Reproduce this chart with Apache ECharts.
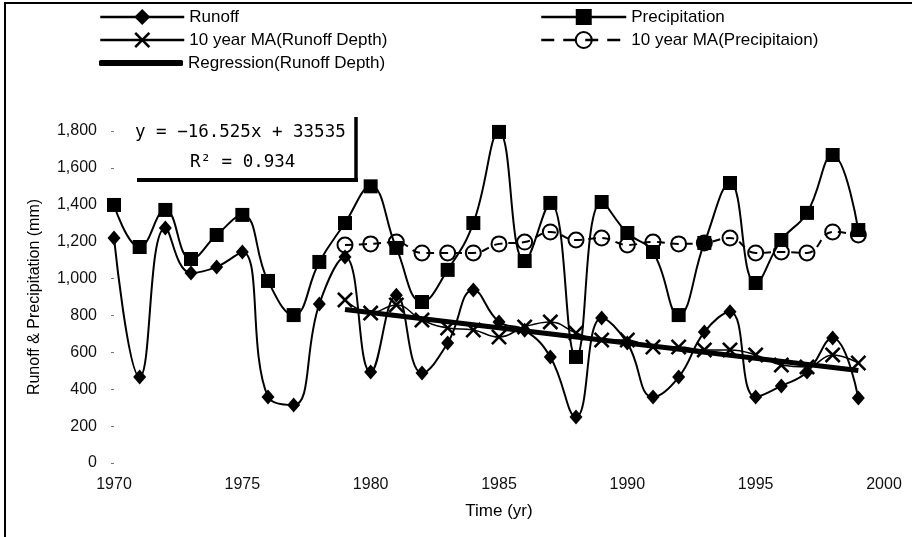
<!DOCTYPE html>
<html>
<head>
<meta charset="utf-8">
<script src="https://cdn.jsdelivr.net/npm/echarts@6/dist/echarts.min.js"></script>
<style>
html,body{margin:0;padding:0;background:#fff;}
#chart{width:912px;height:537px;}
</style>
</head>
<body>
<div id="chart"></div>
<script>
const years = [1970,1971,1972,1973,1974,1975,1976,1977,1978,1979,1980,1981,1982,1983,1984,1985,1986,1987,1988,1989,1990,1991,1992,1993,1994,1995,1996,1997,1998,1999];
const runoff = [1220,466,1274,1030,1063,1144,358,314,862,1117,493,910,488,650,938,765,720,575,249,786,650,358,466,710,820,358,418,493,678,352];
const precipitation = [1399,1171,1372,1106,1236,1345,987,802,1090,1301,1500,1166,873,1047,1301,1795,1095,1410,575,1415,1247,1144,802,1193,1518,976,1209,1356,1670,1263];
const maYears = [1979,1980,1981,1982,1983,1984,1985,1986,1987,1988,1989,1990,1991,1992,1993,1994,1995,1996,1997,1998,1999];
const maRunoff = [884,813,857,775,732,721,683,738,765,705,667,667,629,629,613,613,586,531,521,586,542];
const maPrecip = [1182,1188,1198,1139,1139,1139,1188,1198,1253,1209,1220,1182,1198,1188,1193,1220,1139,1144,1139,1253,1236];
const regressionYears = [1979,1999];
const regressionValues = [832,502];
const yTicks = [0,200,400,600,800,1000,1200,1400,1600,1800];
const xTicks = [1970,1975,1980,1985,1990,1995,2000];
const equationText = 'y = \u221216.525x + 33535';
const r2Text = 'R\u00B2 = 0.934';

const pair = (xs, ys) => xs.map((x, i) => [x, ys[i]]);
const FONT = 'Liberation Sans, Arial, sans-serif';
const xPath = 'path://M0,1.6L1.6,0L7,5.4L12.4,0L14,1.6L8.6,7L14,12.4L12.4,14L7,8.6L1.6,14L0,12.4L5.4,7Z';

const chart = echarts.init(document.getElementById('chart'), null, {renderer:'canvas'});

function legendAt(name, left, centerY, width, extra) {
  return Object.assign({
    data: [name], left: left, top: centerY - 11, padding: 0, itemGap: 0,
    itemWidth: width, itemHeight: 20, selectedMode: false,
    lineStyle: {width: 2.5},
    textStyle: {fontFamily: FONT, fontSize: 17, color: '#000', lineHeight: 22}
  }, extra || {});
}

const option = {
  animation: false,
  backgroundColor: '#fff',
  grid: {left: 114, right: 28, top: 131, bottom: 74, containLabel: false},
  legend: [
    legendAt('Runoff', 99, 17, 84),
    legendAt('10 year MA(Runoff Depth)', 99, 40, 84),
    legendAt('Regression(Runoff Depth)', 99, 63, 84, {icon: 'roundRect', itemHeight: 6}),
    legendAt('Precipitation', 540, 17, 85),
    legendAt('10 year MA(Precipitaion)', 540, 40, 85, {lineStyle: {width: 2.5, type: [13, 9]}})
  ],
  xAxis: {
    type: 'value', min: xTicks[0], max: xTicks[xTicks.length-1], interval: 5,
    name: 'Time (yr)', nameLocation: 'middle', nameGap: 40,
    nameTextStyle: {fontFamily: FONT, fontSize: 17, color: '#000'},
    axisLine: {show: false}, axisTick: {show: false}, splitLine: {show: false},
    axisLabel: {fontFamily: FONT, fontSize: 16, color: '#111', margin: 14, formatter: v => String(v)}
  },
  yAxis: {
    type: 'value', min: yTicks[0], max: yTicks[yTicks.length-1], interval: 200,
    name: 'Runoff & Precipitation (mm)', nameLocation: 'middle', nameGap: 71,
    nameTextStyle: {fontFamily: FONT, fontSize: 16, color: '#000'},
    axisLine: {show: false},
    axisTick: {show: true, length: 3, lineStyle: {color: '#777', width: 1}},
    splitLine: {show: false},
    axisLabel: {fontFamily: FONT, fontSize: 16, color: '#111', margin: 17,
      formatter: v => v.toLocaleString('en-US')}
  },
  series: [
    {
      name: 'Runoff', type: 'line', smooth: 0.45, data: pair(years, runoff),
      symbol: 'diamond', symbolSize: [13, 15],
      lineStyle: {color: '#000', width: 2}, itemStyle: {color: '#000'}, z: 3
    },
    {
      name: 'Precipitation', type: 'line', smooth: 0.45, data: pair(years, precipitation),
      symbol: 'rect', symbolSize: 14,
      lineStyle: {color: '#000', width: 2}, itemStyle: {color: '#000'}, z: 3
    },
    {
      name: '10 year MA(Runoff Depth)', type: 'line', smooth: 0.45, data: pair(maYears, maRunoff),
      symbol: xPath, symbolSize: 16,
      lineStyle: {color: '#000', width: 1.5}, itemStyle: {color: '#000'}, z: 4
    },
    {
      name: '10 year MA(Precipitaion)', type: 'line', smooth: 0.45, data: pair(maYears, maPrecip),
      symbol: 'circle', symbolSize: 15,
      lineStyle: {color: '#000', width: 2, type: [8, 6]},
      itemStyle: {color: 'rgba(255,255,255,0)', borderColor: '#000', borderWidth: 2}, z: 4
    },
    {
      name: 'Regression(Runoff Depth)', type: 'line', data: pair(regressionYears, regressionValues),
      symbol: 'none', lineStyle: {color: '#000', width: 5}, itemStyle: {color: '#000'}, z: 5
    }
  ],
  graphic: [
    {type: 'rect', shape: {x: 5, y: 3, width: 920, height: 545}, style: {fill: null, stroke: '#000', lineWidth: 2}, silent: true},
    {type: 'text', left: 135, top: 123, style: {text: equationText, font: '17.5px "DejaVu Sans Mono", monospace', fill: '#000'}},
    {type: 'text', left: 190, top: 153, style: {text: r2Text, font: '17.5px "DejaVu Sans Mono", monospace', fill: '#000'}},
    {type: 'line', shape: {x1: 137, y1: 180, x2: 358, y2: 180}, style: {stroke: '#000', lineWidth: 4}},
    {type: 'line', shape: {x1: 356, y1: 117, x2: 356, y2: 182}, style: {stroke: '#000', lineWidth: 3.5}}
  ]
};
chart.setOption(option);
</script>
</body>
</html>
